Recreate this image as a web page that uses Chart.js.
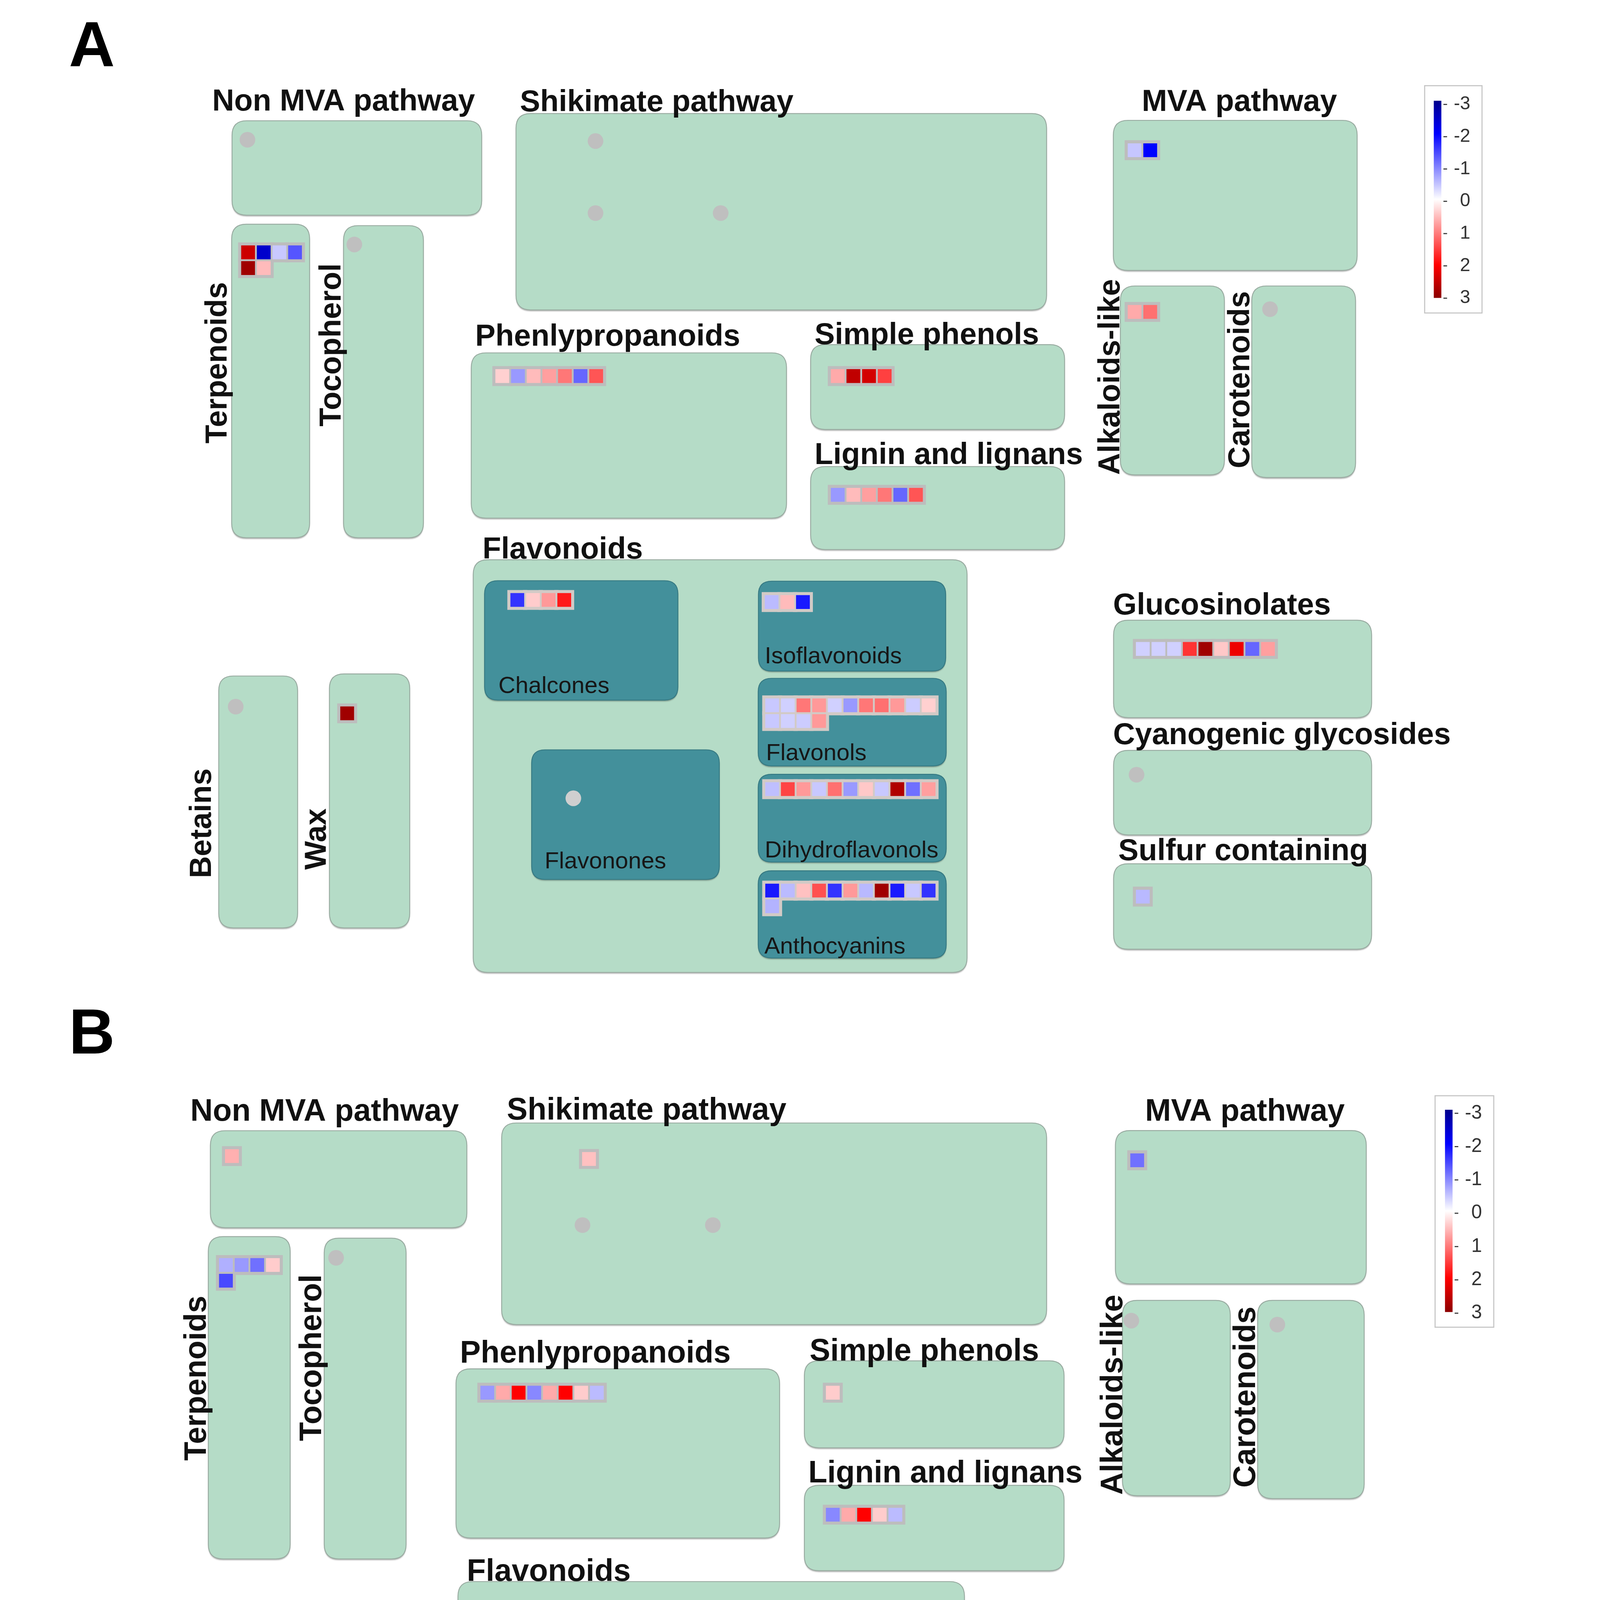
<!DOCTYPE html>
<html>
<head>
<meta charset="utf-8">
<script src="https://cdn.jsdelivr.net/npm/chart.js@4.4.0/dist/chart.umd.min.js"></script>
<style>
html,body{margin:0;padding:0;background:#ffffff;overflow:hidden;}
#c{display:block;}
</style>
</head>
<body>
<canvas id="c"></canvas>
<script>
// ================= DATA =================
const binNames = ['Non MVA pathway','Shikimate pathway (1)','Shikimate pathway (2)','Shikimate pathway (3)',
  'MVA pathway','Terpenoids','Tocopherol','Phenlypropanoids','Simple phenols','Lignin and lignans',
  'Alkaloids-like','Carotenoids','Chalcones','Isoflavonoids','Flavonols','Dihydroflavonols',
  'Anthocyanins','Flavonones','Betains','Wax','Glucosinolates','Cyanogenic glycosides','Sulfur containing'];

// log2 fold-change values per bin (empty = no data, grey dot)
const valuesA = [
  [], [], [], [],
  [-0.45, -2.0],
  [2.44, -2.44, -0.43, -1.33, 2.82, 0.53],
  [],
  [0.37, -0.8, 0.53, 0.75, 1.07, -1.2, 1.33],
  [0.67, 2.54, 2.38, 1.5],
  [-0.8, 0.53, 0.75, 1.07, -1.2, 1.33],
  [0.67, 1.12],
  [],
  [-1.6, 0.4, 0.8, 1.8],
  [-0.53, 0.53, -1.8],
  [-0.43, -0.37, 1.07, 0.8, -0.37, -0.8, 1.07, 1.12, 0.8, -0.4, 0.37, -0.43, -0.37, -0.4, 0.8],
  [-0.5, 1.47, 0.8, -0.43, 1.12, -0.8, 0.43, -0.43, 2.68, -1.12, 0.75],
  [-1.8, -0.53, 0.49, 1.37, -1.6, 0.8, -0.55, 2.82, -1.8, -0.43, -1.6, -0.6],
  [],
  [],
  [2.82],
  [-0.37, -0.37, -0.37, 1.6, 2.82, 0.43, 2.15, -1.2, 0.75],
  [],
  [-0.55]
];
const valuesB = [
  [0.62], [0.49], [], [],
  [-1.12],
  [-0.62, -0.8, -1.12, 0.4, -1.43],
  [],
  [-0.8, 0.67, 2.0, -0.93, 0.67, 2.0, 0.4, -0.53],
  [0.4],
  [-0.93, 0.67, 2.0, 0.4, -0.53],
  [],
  [],
  [-2.44, 0.8, 0.53, 0.4],
  [1.37],
  [1.73, -1.73, 1.2, 0.8, 0.67, 0.67, 2.82, 0.43, 0.67],
  [-2.68, 1.2, -0.53],
  [0.75, -0.55],
  [],
  [],
  [1.47],
  [-1.07, -1.07, -1.07, 0.4, -0.87, -1.2],
  [],
  []
];
const binCols = [12,12,12,12,12,4,12,12,12,12,12,12,12,12,11,11,11,12,12,12,12,12,12];
const legendTicks = [-3, -2, -1, 0, 1, 2, 3];
const panelLetters = ['A', 'B'];

// ================= LAYOUT (design units) =================
const XMAX = 1205.7, YMAX = 1568.2;
const PITCH = 12.0, CELL = 10.4, FRAME = 15.0, DOT_R = 5.9;
const tealBins = [12, 13, 14, 15, 16, 17];

const layoutA = {
  letter: [42, 40],
  titleSize: 22.9, subSize: 17.7, legendSize: 14,
  mint: [
    [167.2, 81.5, 358.7, 153.6], [385, 76, 792, 226], [843.2, 81.2, 1030.2, 195.8],
    [166.9, 160.5, 226.7, 400], [252.7, 161.6, 314, 400],
    [350.7, 258.8, 592.5, 385], [611, 252.5, 805.8, 317.3], [611, 345.6, 805.8, 409],
    [848.6, 207.7, 928.4, 352], [949.4, 207.7, 1029, 354],
    [352.2, 416.8, 731, 732], [157, 505.6, 217.5, 698], [241.9, 504, 303.5, 698],
    [843.4, 463, 1041.3, 537.4], [843.4, 562.4, 1041.3, 627], [843.4, 649, 1041.3, 714.3]
  ],
  teal: [
    [360.9, 432.8, 509.2, 524], [571, 433.2, 714.6, 501.8], [570.8, 507.4, 715, 574.3],
    [570.8, 580.7, 715, 647.7], [570.8, 654.4, 715, 721], [397, 562, 541, 661]
  ],
  titles: [
    ['Non MVA pathway', 152, 73.7], ['Shikimate pathway', 388, 74.2], ['MVA pathway', 865, 74],
    ['Phenlypropanoids', 353.7, 253.3], ['Simple phenols', 614, 252], ['Lignin and lignans', 614, 343.6],
    ['Flavonoids', 359.3, 415.8], ['Glucosinolates', 843, 458.5], ['Cyanogenic glycosides', 843, 557.6],
    ['Sulfur containing', 847, 646.4]
  ],
  vtitles: [
    ['Terpenoids', 163, 328], ['Tocopherol', 250.5, 315], ['Alkaloids-like', 848, 352],
    ['Carotenoids', 947.5, 347], ['Betains', 151, 660], ['Wax', 239.2, 653.6]
  ],
  subs: [
    ['Chalcones', 371.5, 518.5], ['Isoflavonoids', 575.8, 496], ['Flavonols', 576.8, 570],
    ['Dihydroflavonols', 575.8, 644.2], ['Anthocyanins', 575.5, 717.5], ['Flavonones', 407, 652.5]
  ],
  anchors: [
    [179, 96], [446, 97], [446, 152], [542, 152], [859.5, 104], [179.5, 182], [261, 176],
    [374.5, 276.5], [631.8, 276.5], [631.8, 367.2], [859.5, 227.5], [963.4, 225.4],
    [386, 447.5], [581.1, 449.1], [581.5, 528], [581.5, 592], [581.5, 669.5], [429, 599],
    [170, 529], [255.5, 534.1], [865.8, 484.9], [861, 581], [865.8, 674.1]
  ],
  legend: {box: [1082, 54.7, 1126, 228.3], bar: [1089, 66.2, 1094.8, 216.8], t0: 69, t6: 217, labelX: 1117}
};

const layoutB = {
  letter: [42, 794],
  titleSize: 23.4, subSize: 18.2, legendSize: 14.5,
  mint: [
    [150.6, 852.9, 347.3, 927], [374, 847, 792, 1001], [844.8, 852.8, 1037.2, 969.9],
    [149, 933.8, 211.8, 1180], [237.9, 935, 300.7, 1180],
    [339, 1034.8, 587.2, 1164], [606.2, 1028.7, 805.4, 1095.1], [606.2, 1123.8, 805.4, 1189],
    [850.2, 982.5, 932.9, 1131.7], [953.9, 982.5, 1035.6, 1133.9],
    [340.5, 1197.3, 729, 1521], [140, 1289, 201, 1486], [228, 1287, 290, 1486],
    [845.2, 1244.5, 1048.5, 1320], [845.2, 1348, 1048.5, 1412], [845.2, 1437, 1048.5, 1502]
  ],
  teal: [
    [349, 1213.8, 501.2, 1307], [565, 1213.8, 713.2, 1285], [564.7, 1290.3, 713.2, 1359.5],
    [564.7, 1365.8, 713.2, 1435.2], [564.7, 1441.7, 713.2, 1510], [386, 1347, 533, 1448]
  ],
  titles: [
    ['Non MVA pathway', 135.2, 845.3], ['Shikimate pathway', 378, 844.5], ['MVA pathway', 867.6, 845.2],
    ['Phenlypropanoids', 342, 1030], ['Simple phenols', 610.2, 1028.4], ['Lignin and lignans', 609.2, 1121.5],
    ['Flavonoids', 347.3, 1196.7], ['Glucosinolates', 845, 1240.5], ['Cyanogenic glycosides', 845, 1344.5],
    ['Sulfur containing', 849, 1433.5]
  ],
  vtitles: [
    ['Terpenoids', 147, 1105], ['Tocopherol', 235.5, 1090], ['Alkaloids-like', 850, 1131],
    ['Carotenoids', 952, 1125.6], ['Betains', 134, 1447], ['Wax', 223, 1440]
  ],
  subs: [
    ['Chalcones', 360.7, 1301.5], ['Isoflavonoids', 570, 1279], ['Flavonols', 571.5, 1355.2],
    ['Dihydroflavonols', 570.5, 1430.4], ['Anthocyanins', 569.5, 1505.5], ['Flavonones', 397, 1439.5]
  ],
  anchors: [
    [167.1, 872.3], [441, 874.5], [436, 925], [536, 925], [861.5, 875.5], [162.5, 955.5], [247, 950],
    [363, 1053], [628, 1053], [628, 1146.2], [857, 998], [969, 1001],
    [375, 1228.8], [575.5, 1230.5], [575.8, 1311.8], [575.8, 1377.5], [575.8, 1457.1], [420, 1385],
    [153, 1313], [241, 1318], [867.5, 1267.9], [863, 1366], [863, 1456]
  ],
  legend: {box: [1090, 826.2, 1135, 1003], bar: [1097.6, 836.9, 1103.4, 991.4], t0: 839.6, t6: 992.3, labelX: 1126}
};
const panels = [[valuesA, layoutA], [valuesB, layoutB]];

// ================= CANVAS SIZE (fit the viewport) =================
const canvas = document.getElementById('c');
const DPR = window.devicePixelRatio || 1;
const cssW = (window.innerWidth && window.innerWidth > 100) ? window.innerWidth : Math.round(4267 / DPR);
const cssH = Math.round(cssW * 5550 / 4267);
canvas.width = cssW; canvas.height = cssH;
canvas.style.width = cssW + 'px'; canvas.style.height = cssH + 'px';
const U = cssW / XMAX;   // css px per design unit

// ================= COLOUR SCALE =================
function colourOf(v) {
  const a = Math.min(Math.abs(v), 3);
  let r, g, b;
  if (a <= 2) {
    const c = Math.round(255 * (1 - a / 2));
    if (v >= 0) { r = 255; g = c; b = c; } else { r = c; g = c; b = 255; }
  } else {
    const d = Math.round(255 - (a - 2) * 116);
    if (v >= 0) { r = d; g = 0; b = 0; } else { r = 0; g = 0; b = d; }
  }
  return 'rgb(' + r + ',' + g + ',' + b + ')';
}

// ================= POINTS FROM DATA =================
const dotPts = [], cellPts = [];
panels.forEach(([vals, lay]) => {
  binNames.forEach((name, i) => {
    const [ax, ay] = lay.anchors[i];
    const list = vals[i];
    const teal = tealBins.includes(i);
    if (!list.length) { dotPts.push({x: ax, y: ay, teal: teal}); return; }
    list.forEach((v, k) => {
      const col = k % binCols[i], row = Math.floor(k / binCols[i]);
      cellPts.push({x: ax + col * PITCH, y: ay + row * PITCH, v: v, teal: teal});
    });
  });
});

// ================= DRAWING PLUGIN =================
function rr(ctx, x0, y0, x1, y1, r) {
  const w = x1 - x0, h = y1 - y0;
  r = Math.min(r, w / 2, h / 2);
  ctx.beginPath();
  ctx.moveTo(x0 + r, y0);
  ctx.lineTo(x1 - r, y0);
  ctx.quadraticCurveTo(x1, y0, x1, y0 + r);
  ctx.lineTo(x1, y1 - r);
  ctx.quadraticCurveTo(x1, y1, x1 - r, y1);
  ctx.lineTo(x0 + r, y1);
  ctx.quadraticCurveTo(x0, y1, x0, y1 - r);
  ctx.lineTo(x0, y0 + r);
  ctx.quadraticCurveTo(x0, y0, x0 + r, y0);
  ctx.closePath();
}
const FONT = '"Liberation Sans", Arial, Helvetica, sans-serif';

const diagramPlugin = {
  id: 'diagram',
  beforeDatasetsDraw(chart) {
    const ctx = chart.ctx;
    const sx = chart.scales.x, sy = chart.scales.y;
    const X = v => sx.getPixelForValue(v), Y = v => sy.getPixelForValue(v);
    const drawBox = (b, r, fill, stroke) => {
      ctx.save();
      ctx.shadowColor = 'rgba(0,0,0,0.28)';
      ctx.shadowOffsetY = 1.0 * U * DPR; ctx.shadowBlur = 0.8 * U * DPR;
      rr(ctx, X(b[0]), Y(b[1]), X(b[2]), Y(b[3]), r * U);
      ctx.fillStyle = fill; ctx.fill();
      ctx.restore();
      rr(ctx, X(b[0]), Y(b[1]), X(b[2]), Y(b[3]), r * U);
      ctx.lineWidth = 0.7 * U; ctx.strokeStyle = stroke; ctx.stroke();
    };
    panels.forEach(([vals, lay], pi) => {
      ctx.fillStyle = '#000';
      ctx.font = 'bold ' + (48 * U) + 'px ' + FONT;
      ctx.textAlign = 'left'; ctx.textBaseline = 'alphabetic';
      ctx.fillText(panelLetters[pi], X(lay.letter[0]), Y(lay.letter[1]));
      lay.mint.forEach(b => drawBox(b, 11, '#b5dcc7', '#9aaca2'));
      lay.teal.forEach(b => drawBox(b, 10, '#43909b', '#377a83'));
      ctx.fillStyle = '#111';
      ctx.font = 'bold ' + (lay.titleSize * U) + 'px ' + FONT;
      ctx.textAlign = 'left'; ctx.textBaseline = 'alphabetic';
      lay.titles.forEach(t => ctx.fillText(t[0], X(t[1]), Y(t[2])));
      lay.vtitles.forEach(t => {
        ctx.save();
        ctx.translate(X(t[1]), Y(t[2]));
        ctx.rotate(-Math.PI / 2);
        ctx.fillText(t[0], 0, 0);
        ctx.restore();
      });
      ctx.fillStyle = '#161616';
      ctx.font = (lay.subSize * U) + 'px ' + FONT;
      lay.subs.forEach(t => ctx.fillText(t[0], X(t[1]), Y(t[2])));
      // colour legend
      const L = lay.legend;
      ctx.fillStyle = '#ffffff';
      ctx.fillRect(X(L.box[0]), Y(L.box[1]), X(L.box[2]) - X(L.box[0]), Y(L.box[3]) - Y(L.box[1]));
      ctx.lineWidth = 0.8 * U; ctx.strokeStyle = '#c4c4c4';
      ctx.strokeRect(X(L.box[0]), Y(L.box[1]), X(L.box[2]) - X(L.box[0]), Y(L.box[3]) - Y(L.box[1]));
      const grad = ctx.createLinearGradient(0, Y(L.bar[1]), 0, Y(L.bar[3]));
      const lo = legendTicks[0], hi = legendTicks[legendTicks.length - 1];
      [-3, -2, 0, 2, 3].forEach(v => grad.addColorStop((v - lo) / (hi - lo), colourOf(v)));
      ctx.fillStyle = grad;
      ctx.fillRect(X(L.bar[0]), Y(L.bar[1]), X(L.bar[2]) - X(L.bar[0]), Y(L.bar[3]) - Y(L.bar[1]));
      ctx.font = (lay.legendSize * U) + 'px ' + FONT;
      ctx.textAlign = 'right'; ctx.textBaseline = 'middle';
      legendTicks.forEach((v, k) => {
        const ty = L.t0 + (L.t6 - L.t0) * k / (legendTicks.length - 1);
        ctx.strokeStyle = '#333'; ctx.lineWidth = 0.8 * U;
        ctx.beginPath();
        ctx.moveTo(X(L.bar[2] + 1.6), Y(ty)); ctx.lineTo(X(L.bar[2] + 4.4), Y(ty));
        ctx.stroke();
        ctx.fillStyle = '#333';
        ctx.fillText(String(v), X(L.labelX), Y(ty));
      });
    });
  }
};

// ================= CHART =================
new Chart(canvas, {
  type: 'scatter',
  data: {
    datasets: [
      { label: 'cells', data: cellPts, order: 0, pointStyle: 'rect',
        pointRadius: CELL * U / Math.SQRT2, pointHoverRadius: CELL * U / Math.SQRT2,
        borderWidth: 0, backgroundColor: c => colourOf(c.raw ? c.raw.v : 0) },
      { label: 'frames', data: cellPts, order: 1, pointStyle: 'rect',
        pointRadius: FRAME * U / Math.SQRT2, pointHoverRadius: FRAME * U / Math.SQRT2,
        borderWidth: 0, backgroundColor: c => (c.raw && c.raw.teal) ? '#d2cac6' : '#bdbdbd' },
      { label: 'no data', data: dotPts, order: 2, pointStyle: 'circle',
        pointRadius: DOT_R * U, pointHoverRadius: DOT_R * U,
        borderWidth: 0, backgroundColor: c => (c.raw && c.raw.teal) ? '#cfcfcf' : '#bfbfbf' }
    ]
  },
  options: {
    responsive: false, maintainAspectRatio: false, devicePixelRatio: DPR,
    animation: false, events: [],
    layout: { padding: 0 },
    plugins: { legend: { display: false }, tooltip: { enabled: false }, title: { display: false } },
    scales: {
      x: { type: 'linear', min: 0, max: XMAX, display: false },
      y: { type: 'linear', min: 0, max: YMAX, reverse: true, display: false }
    }
  },
  plugins: [diagramPlugin]
});
</script>
</body>
</html>
